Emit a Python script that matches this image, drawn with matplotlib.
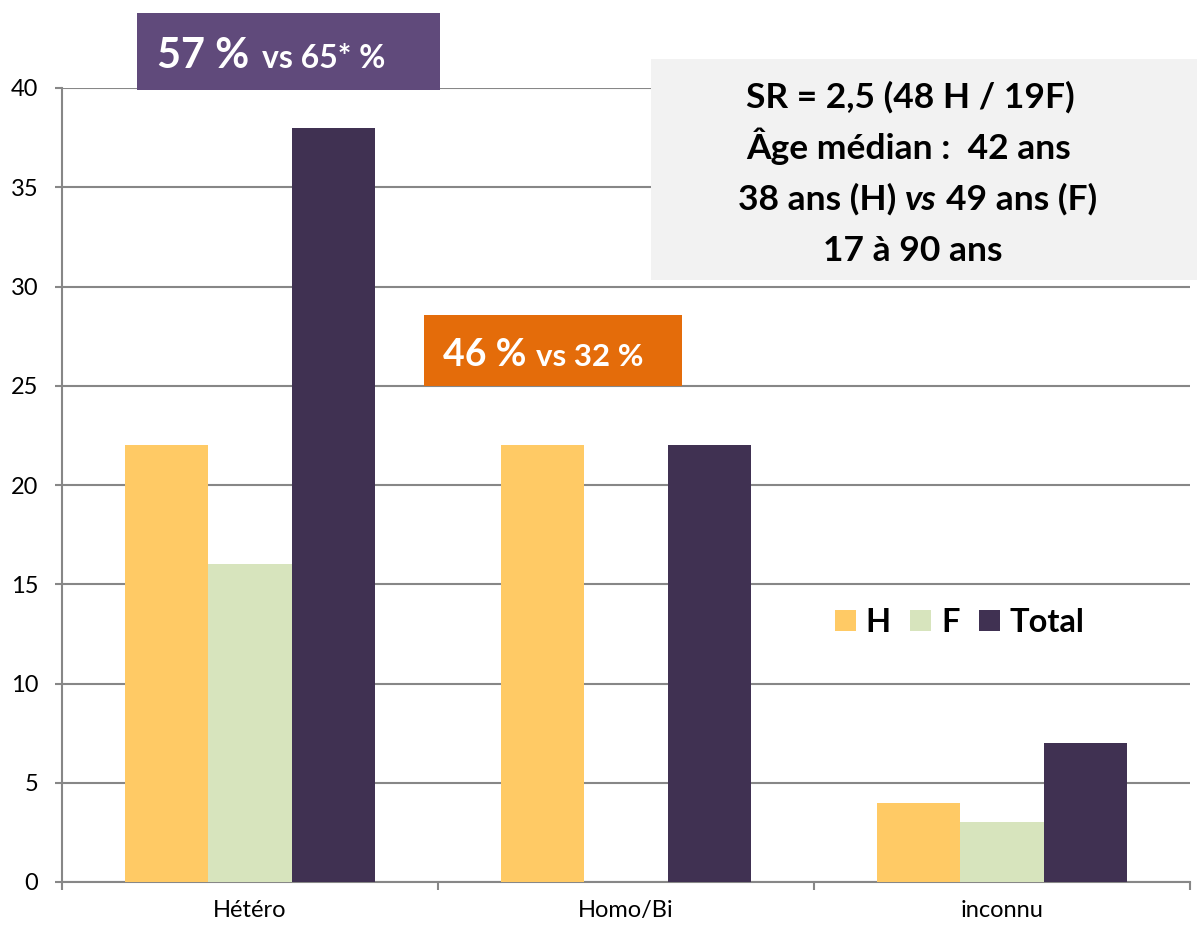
import matplotlib.pyplot as plt
from matplotlib.patches import Rectangle
import numpy as np

categories = ['Hétéro', 'Homo/Bi', 'inconnu']
h_vals = [22, 22, 4]
f_vals = [16, 0, 3]
total_vals = [38, 22, 7]
series_names = ['H', 'F', 'Total']
series_colors = ['#FFCA65', '#D7E4BD', '#403152']
y_ticks = [0, 5, 10, 15, 20, 25, 30, 35, 40]

W, H = 1197, 927
GRID = '#878787'
plt.rcParams['font.family'] = ['Lato', 'DejaVu Sans']

fig = plt.figure(figsize=(W / 100, H / 100), dpi=100)


def fx(px):
    return px / W


def fy(py):
    return 1 - py / H


ax = fig.add_axes([fx(62), fy(882), fx(1190) - fx(62), fy(88) - fy(882)])

x = np.arange(len(categories))
bw = 0.222
for i, vals in enumerate([h_vals, f_vals, total_vals]):
    ax.bar(x + (i - 1) * bw, vals, bw, color=series_colors[i],
           label=series_names[i], zorder=3, edgecolor='none')

ax.set_xlim(-0.5, 2.5)
ax.set_ylim(0, 40)
ax.set_yticks(y_ticks)
ax.set_xticks(x)
ax.set_xticklabels(categories)
ax.set_xticks([-0.5, 0.5, 1.5, 2.5], minor=True)
ax.yaxis.grid(True, color=GRID, linewidth=1.5, zorder=0)
ax.set_axisbelow(True)
for s in ['top', 'right']:
    ax.spines[s].set_visible(False)
for s in ['left', 'bottom']:
    ax.spines[s].set_color(GRID)
    ax.spines[s].set_linewidth(1.5)
ax.tick_params(axis='y', length=5, width=1.5, color=GRID, pad=12, labelsize=17)
ax.tick_params(axis='x', which='major', length=0, pad=13, labelsize=17)
ax.tick_params(axis='x', which='minor', length=6, width=1.5, color=GRID)

ax.legend(ncol=3, frameon=False, loc='lower left',
          bbox_to_anchor=(fx(835), fy(637)), bbox_transform=fig.transFigure,
          prop={'size': 23.5, 'weight': 'bold'}, handlelength=0.64,
          handleheight=0.64, handletextpad=0.3, columnspacing=0.6,
          borderaxespad=0, borderpad=0)

renderer = fig.canvas.get_renderer()


def box(x0, y0, x1, y1, color):
    fig.add_artist(Rectangle((fx(x0), fy(y1)), fx(x1) - fx(x0), fy(y0) - fy(y1),
                             facecolor=color, edgecolor='none', zorder=5,
                             transform=fig.transFigure))


def run(x0, y, parts, color):
    # parts: (texte, taille, style, espace apres en px)
    xx = x0
    for s, size, style, gap in parts:
        t = fig.text(fx(xx), fy(y), s, fontsize=size, fontweight='bold',
                     fontstyle=style, color=color, va='baseline', ha='left',
                     zorder=6)
        xx += t.get_window_extent(renderer).width + gap


# encadre violet
box(137, 13, 440, 90, '#604A7B')
run(157, 68, [('57 %', 30, 'normal', 13), ('vs 65* %', 23, 'normal', 0)], 'white')

# encadre orange
box(424, 315, 682, 386, '#E46C0A')
run(443, 366, [('46 %', 27, 'normal', 9), ('vs 32 %', 22.5, 'normal', 0)], 'white')

# encadre gris
box(651, 59, 1197, 280, '#F2F2F2')
run(746, 108, [('SR = 2,5 (48 H / 19F)', 25.5, 'normal', 0)], 'black')
run(746, 159, [('Âge médian :  42 ans', 25.5, 'normal', 0)], 'black')
run(738, 210, [('38 ans (H)', 25.5, 'normal', 9), ('vs', 25.5, 'italic', 9),
               ('49 ans (F)', 25.5, 'normal', 0)], 'black')
run(823, 261, [('17 à 90 ans', 25.5, 'normal', 0)], 'black')

fig.savefig('out.png', dpi=100)
